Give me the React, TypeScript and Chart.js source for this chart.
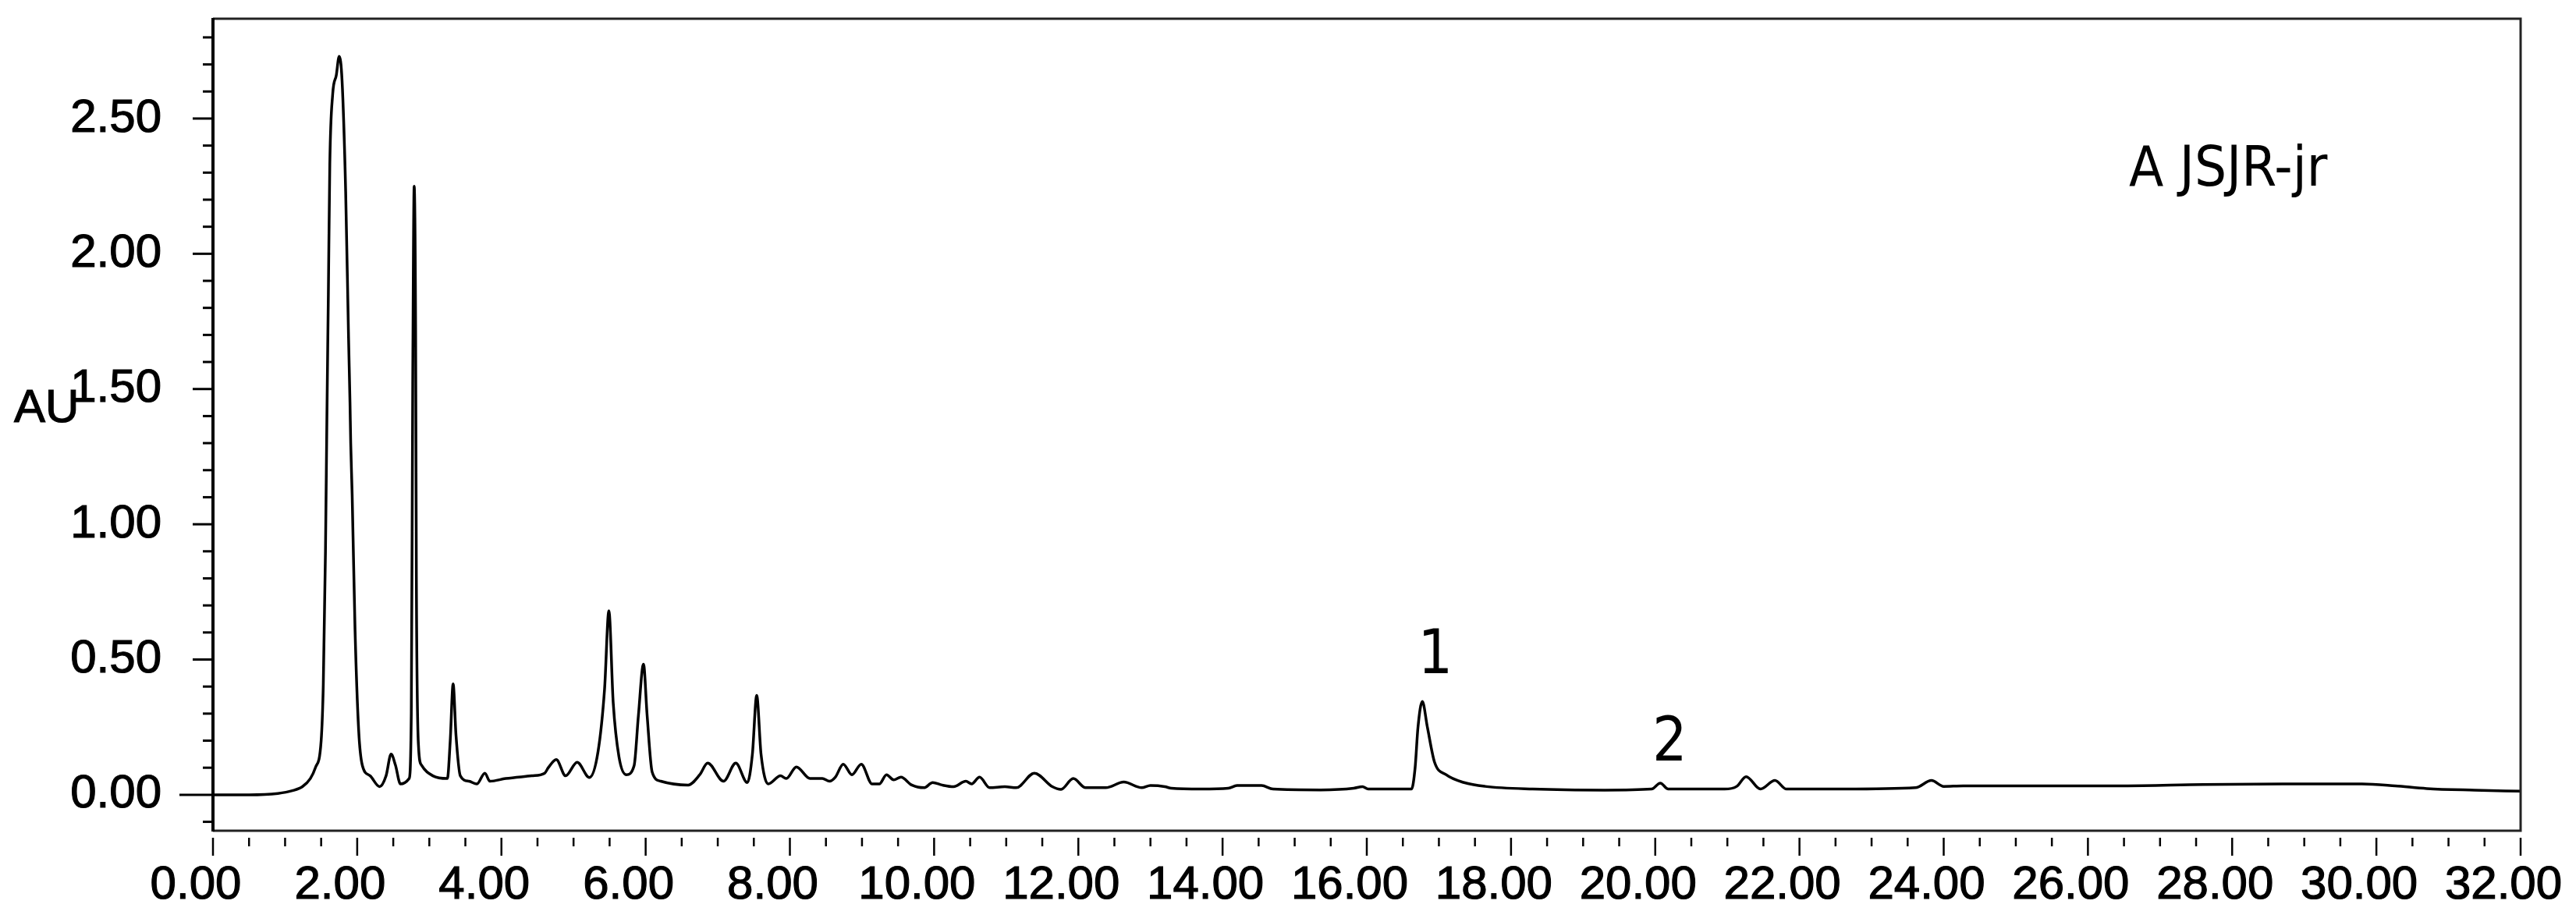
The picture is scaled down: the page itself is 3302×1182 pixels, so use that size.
import React, { useEffect, useRef } from "react";
import { Chart, registerables } from "chart.js";

Chart.register(...registerables);

// Retention time (min)
const retentionTimes = [
  0.0, 0.5, 0.9, 1.1, 1.24, 1.35, 1.42, 1.5, 1.53, 1.56, 1.58, 1.6, 1.62, 1.66, 1.71, 1.75, 1.79, 1.84,
  1.88, 1.9, 1.91, 1.93, 1.97, 2.02, 2.07, 2.18, 2.31, 2.4, 2.47, 2.53, 2.6, 2.72, 2.75, 2.77, 2.79,
  2.81, 2.82, 2.85, 2.89, 3.05, 3.25, 3.29, 3.33, 3.37, 3.43, 3.55, 3.66, 3.77, 3.84, 4.06, 4.42, 4.6,
  4.65, 4.76, 4.89, 5.05, 5.22, 5.34, 5.43, 5.49, 5.55, 5.63, 5.73, 5.84, 5.9, 5.97, 6.02, 6.09, 6.21,
  6.59, 6.75, 6.86, 7.08, 7.25, 7.41, 7.48, 7.54, 7.6, 7.7, 7.87, 7.95, 8.09, 8.28, 8.45, 8.55, 8.63,
  8.74, 8.86, 8.99, 9.14, 9.24, 9.34, 9.44, 9.54, 9.69, 9.86, 9.98, 10.11, 10.27, 10.44, 10.52, 10.63,
  10.77, 10.98, 11.14, 11.39, 11.64, 11.76, 11.93, 12.1, 12.38, 12.63, 12.88, 13.0, 13.2, 13.29, 13.7,
  14.08, 14.2, 14.54, 14.7, 15.36, 15.82, 15.94, 16.02, 16.62, 16.67, 16.71, 16.77, 16.84, 16.94, 17.1,
  17.35, 17.64, 18.3, 19.3, 19.95, 20.07, 20.18, 20.96, 21.13, 21.26, 21.46, 21.66, 21.82, 22.62, 23.61,
  23.83, 24.0, 24.27, 25.38, 26.49, 27.6, 28.7, 29.8, 30.26, 30.7, 31.36, 32.0,
];

// Absorbance (AU)
const absorbance = [
  0.0, 0.0, 0.005, 0.015, 0.03, 0.06, 0.1, 0.2, 0.41, 0.9, 1.4, 1.85, 2.33, 2.59, 2.66, 2.73, 2.64, 2.23,
  1.69, 1.45, 1.3, 1.11, 0.61, 0.24, 0.11, 0.07, 0.03, 0.07, 0.15, 0.11, 0.04, 0.06, 0.3, 1.52, 2.25,
  1.72, 0.81, 0.18, 0.11, 0.07, 0.06, 0.2, 0.41, 0.22, 0.07, 0.05, 0.04, 0.08, 0.05, 0.06, 0.07, 0.08,
  0.1, 0.13, 0.07, 0.12, 0.064, 0.16, 0.39, 0.68, 0.34, 0.14, 0.074, 0.108, 0.295, 0.483, 0.295, 0.084, 0.05,
  0.036, 0.074, 0.117, 0.05, 0.117, 0.045, 0.15, 0.367, 0.15, 0.04, 0.07, 0.06, 0.103, 0.06, 0.06, 0.05, 0.065,
  0.113, 0.074, 0.113, 0.04, 0.04, 0.074, 0.055, 0.065, 0.036, 0.026, 0.045, 0.036, 0.03, 0.05, 0.04, 0.065,
  0.026, 0.03, 0.026, 0.08, 0.03, 0.02, 0.06, 0.026, 0.026, 0.047, 0.026, 0.034, 0.03, 0.024, 0.021,
  0.024, 0.034, 0.034, 0.021, 0.018, 0.024, 0.03, 0.021, 0.021, 0.1, 0.25, 0.345, 0.25, 0.12, 0.074,
  0.045, 0.031, 0.021, 0.017, 0.021, 0.043, 0.021, 0.021, 0.031, 0.067, 0.021, 0.053, 0.021, 0.021, 0.026,
  0.053, 0.031, 0.033, 0.033, 0.033, 0.038, 0.04, 0.04, 0.033, 0.023, 0.017, 0.013,
];

// Tick labels
const xTickLabels = ["0.00", "2.00", "4.00", "6.00", "8.00", "10.00", "12.00", "14.00", "16.00",
  "18.00", "20.00", "22.00", "24.00", "26.00", "28.00", "30.00", "32.00"];
const yTickLabels = ["0.00", "0.50", "1.00", "1.50", "2.00", "2.50"];

// Annotations
const sampleTitle = "A JSJR-jr";
const yAxisTitle = "AU";
const peakNames = ["1", "2"];
const peakNameTimes = [16.95, 20.2];
const peakNameValues = [0.45, 0.127];

const AXIS_FONT = "'Liberation Sans', Arial, sans-serif";
const NOTE_FONT = "'DejaVu Sans Condensed', 'DejaVu Sans', sans-serif";

const isMult = (v: number, step: number) => Math.abs(v / step - Math.round(v / step)) < 1e-6;

const zeroPadding = (s: any) => {
  s.paddingLeft = 0;
  s.paddingRight = 0;
  s.paddingTop = 0;
  s.paddingBottom = 0;
};

const decorPlugin = {
  id: "decor",
  afterDraw(chart: any) {
    const { ctx, chartArea } = chart;
    const xs = chart.scales.x;
    const ys = chart.scales.y;
    ctx.save();
    ctx.strokeStyle = "#000";
    // y tick marks
    ctx.lineWidth = 3;
    ys.ticks.forEach((t: any) => {
      const py = ys.getPixelForValue(t.value);
      let len = 13;
      if (Math.abs(t.value) < 1e-6) len = 43;
      else if (isMult(t.value, 0.5)) len = 26;
      ctx.beginPath();
      ctx.moveTo(chartArea.left - len, py);
      ctx.lineTo(chartArea.left, py);
      ctx.stroke();
    });
    // x tick marks
    ctx.lineWidth = 2.5;
    xs.ticks.forEach((t: any) => {
      const px = xs.getPixelForValue(t.value);
      const len = isMult(t.value, 2) ? 23 : 11;
      ctx.beginPath();
      ctx.moveTo(px, chartArea.bottom + 9);
      ctx.lineTo(px, chartArea.bottom + 9 + len);
      ctx.stroke();
    });
    // frame
    ctx.lineWidth = 3;
    ctx.strokeStyle = "#222";
    ctx.beginPath();
    ctx.moveTo(chartArea.left, chartArea.top);
    ctx.lineTo(chartArea.right, chartArea.top);
    ctx.lineTo(chartArea.right, chartArea.bottom);
    ctx.lineTo(chartArea.left, chartArea.bottom);
    ctx.stroke();
    ctx.lineWidth = 4;
    ctx.strokeStyle = "#000";
    ctx.beginPath();
    ctx.moveTo(chartArea.left, chartArea.top - 1);
    ctx.lineTo(chartArea.left, chartArea.bottom + 1);
    ctx.stroke();

    // texts
    ctx.fillStyle = "#000";
    ctx.strokeStyle = "#000";
    ctx.lineWidth = 1.2;
    ctx.textBaseline = "alphabetic";
    ctx.textAlign = "left";
    ctx.font = `60px ${AXIS_FONT}`;
    const auY = ys.getPixelForValue(1.5) + 42;
    ctx.fillText(yAxisTitle, 18, auY);
    ctx.strokeText(yAxisTitle, 18, auY);

    ctx.font = `72px ${NOTE_FONT}`;
    ctx.fillText(sampleTitle, chartArea.right - 502, chartArea.top + 214);

    ctx.textAlign = "center";
    ctx.font = `78px ${NOTE_FONT}`;
    peakNames.forEach((n, i) => {
      ctx.fillText(n, xs.getPixelForValue(peakNameTimes[i]), ys.getPixelForValue(peakNameValues[i]));
    });
    ctx.restore();
  },
};

export default function App() {
  const ref = useRef<HTMLCanvasElement | null>(null);
  useEffect(() => {
    if (!ref.current) return;
    const points = retentionTimes.map((t, i) => ({ x: t, y: absorbance[i] }));
    const chart = new Chart(ref.current, {
      type: "line",
      data: {
        datasets: [
          {
            data: points,
            borderColor: "#000",
            borderWidth: 3.5,
            pointRadius: 0,
            cubicInterpolationMode: "monotone",
            fill: false,
          },
        ],
      },
      options: {
        animation: false,
        responsive: false,
        devicePixelRatio: 1,
        events: [],
        layout: { padding: { top: 24, right: 71, left: 0, bottom: 0 } },
        plugins: { legend: { display: false }, tooltip: { enabled: false } },
        scales: {
          x: {
            type: "linear",
            min: 0,
            max: 32,
            grid: { display: false, drawTicks: false },
            border: { display: false },
            afterFit: (s: any) => {
              s.height = 117;
              zeroPadding(s);
            },
            ticks: {
              stepSize: 0.5,
              autoSkip: false,
              maxRotation: 0,
              minRotation: 0,
              includeBounds: false,
              padding: 34,
              labelOffset: -22,
              color: "#000",
              textStrokeColor: "#000",
              textStrokeWidth: 1.2,
              font: { size: 60, family: AXIS_FONT },
              callback: (v: any) => {
                const n = Number(v);
                if (!isMult(n, 2)) return "";
                return xTickLabels[Math.round(n / 2)] ?? "";
              },
            },
          },
          y: {
            type: "linear",
            min: -0.133,
            max: 2.869,
            grid: { display: false, drawTicks: false },
            border: { display: false },
            afterFit: (s: any) => {
              s.width = 273;
              zeroPadding(s);
            },
            ticks: {
              stepSize: 0.1,
              autoSkip: false,
              includeBounds: false,
              padding: 66,
              color: "#000",
              textStrokeColor: "#000",
              textStrokeWidth: 1.2,
              font: { size: 60, family: AXIS_FONT },
              callback: (v: any) => {
                const n = Number(v);
                if (!isMult(n, 0.5) || n < -1e-6) return "";
                return yTickLabels[Math.round(n / 0.5)] ?? "";
              },
            },
          },
        },
      },
      plugins: [decorPlugin],
    });
    return () => chart.destroy();
  }, []);
  return (
    <div style={{ position: "fixed", left: 0, top: 0, width: 3302, height: 1182, background: "#fff" }}>
      <canvas ref={ref} width={3302} height={1182} style={{ display: "block" }} />
    </div>
  );
}
